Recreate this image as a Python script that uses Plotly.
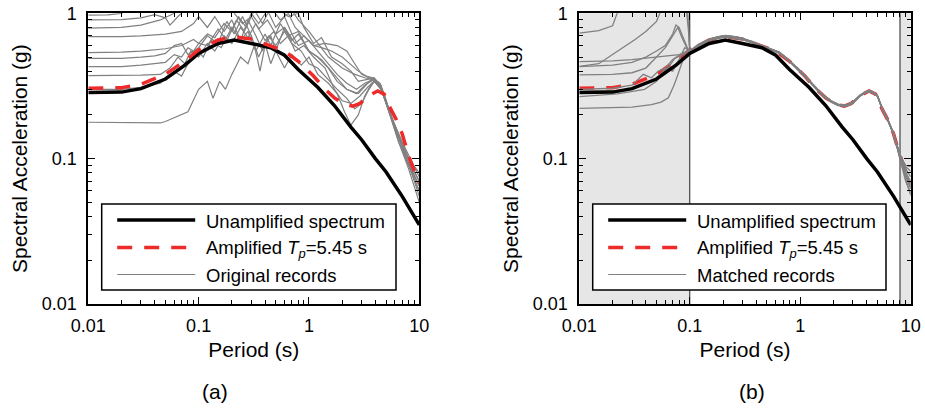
import plotly.graph_objects as go

# ---------------- data ----------------
period_unamp = [0.01, 0.02, 0.03, 0.05, 0.075, 0.1, 0.15, 0.21, 0.3, 0.45, 0.6, 0.8, 1.2, 1.7, 2.4, 3.0, 4.0, 5.0, 7.0, 10.0]
sa_unamp = [0.285, 0.287, 0.303, 0.353, 0.44, 0.53, 0.62, 0.655, 0.62, 0.58, 0.515, 0.41, 0.31, 0.232, 0.165, 0.135, 0.1, 0.081, 0.055, 0.035]

period_amp = [0.01, 0.02, 0.03, 0.05, 0.075, 0.1, 0.15, 0.21, 0.3, 0.45, 0.6, 0.8, 1.1, 1.4, 1.7, 2.1, 2.5, 2.9, 3.5, 4.2, 4.8, 5.5, 6.2, 7.0, 8.0, 9.0, 10.0]
sa_amp = [0.305, 0.308, 0.325, 0.38, 0.47, 0.56, 0.655, 0.69, 0.665, 0.595, 0.55, 0.468, 0.37, 0.3, 0.262, 0.236, 0.23, 0.24, 0.272, 0.292, 0.278, 0.22, 0.185, 0.148, 0.105, 0.082, 0.068]

# original (unmatched) records, panel (a)
orig_periods = [
    [0.01, 0.015, 0.02, 0.03, 0.05, 0.1, 0.2, 0.3, 0.5, 0.7, 0.8, 1.0, 1.2, 1.5, 2.0, 2.6, 3.2, 3.8, 4.5, 5.5, 7.0, 8.5, 10.0],
    [0.01, 0.02, 0.03, 0.04, 0.05, 0.055, 0.065, 0.08, 0.12, 0.2, 0.25, 0.3, 0.35, 0.42, 0.5, 0.6, 0.75, 0.9, 1.1, 1.4, 1.8, 2.2, 2.6, 3.0, 3.8, 4.5, 5.5, 7.0, 8.5, 10.0],
    [0.01, 0.02, 0.03, 0.045, 0.06, 0.08, 0.15, 0.3, 0.5, 0.65, 0.8, 0.9, 1.1, 1.3, 1.6, 2.0, 2.4, 2.8, 3.3, 3.9, 4.5, 5.5, 7.0, 8.5, 10.0],
    [0.01, 0.02, 0.03, 0.05, 0.07, 0.09, 0.1, 0.12, 0.14, 0.17, 0.2, 0.24, 0.28, 0.33, 0.4, 0.45, 0.55, 0.65, 0.8, 1.0, 1.3, 1.7, 2.2, 2.8, 3.4, 3.9, 4.5, 5.5, 7.0, 8.5, 10.0],
    [0.01, 0.02, 0.03, 0.05, 0.07, 0.09, 0.1, 0.12, 0.14, 0.17, 0.2, 0.23, 0.27, 0.32, 0.38, 0.45, 0.55, 0.65, 0.75, 0.9, 1.1, 1.3, 1.6, 2.0, 2.4, 2.8, 3.3, 3.8, 4.4, 5.2, 6.5, 8.0, 10.0],
    [0.01, 0.02, 0.03, 0.04, 0.05, 0.06, 0.07, 0.08, 0.1, 0.12, 0.15, 0.18, 0.21, 0.25, 0.3, 0.35, 0.4, 0.45, 0.5, 0.6, 0.7, 0.85, 1.0, 1.2, 1.5, 1.8, 2.1, 2.4, 2.8, 3.2, 3.7, 4.2, 4.8, 5.5, 7.0, 8.5, 10.0],
    [0.01, 0.02, 0.03, 0.05, 0.06, 0.07, 0.08, 0.09, 0.1, 0.12, 0.15, 0.18, 0.22, 0.26, 0.3, 0.35, 0.42, 0.5, 0.6, 0.7, 0.8, 1.0, 1.2, 1.5, 1.8, 2.2, 2.7, 3.2, 3.8, 4.4, 5.2, 6.5, 8.0, 10.0],
    [0.01, 0.02, 0.03, 0.045, 0.055, 0.065, 0.075, 0.085, 0.1, 0.12, 0.14, 0.17, 0.2, 0.24, 0.28, 0.33, 0.4, 0.48, 0.55, 0.65, 0.75, 0.9, 1.1, 1.4, 1.7, 2.0, 2.4, 2.9, 3.4, 3.9, 4.5, 5.3, 6.5, 8.0, 10.0],
    [0.01, 0.02, 0.03, 0.045, 0.06, 0.07, 0.08, 0.1, 0.11, 0.13, 0.16, 0.2, 0.24, 0.28, 0.33, 0.38, 0.43, 0.5, 0.6, 0.7, 0.85, 1.0, 1.2, 1.5, 1.8, 2.2, 2.6, 3.0, 3.5, 4.0, 4.5, 5.3, 6.5, 8.0, 10.0],
    [0.01, 0.03, 0.045, 0.05, 0.065, 0.08, 0.1, 0.12, 0.135, 0.155, 0.175, 0.2, 0.24, 0.28, 0.32, 0.36, 0.4, 0.45, 0.5, 0.6, 0.7, 0.8, 1.0, 1.2, 1.5, 1.8, 2.2, 2.7, 3.2, 3.8, 4.4, 5.2, 6.5, 8.0, 10.0],
]
orig_sa = [
    [0.97, 0.975, 1.0, 1.15, 1.3, 1.5, 1.6, 1.4, 1.2, 1.05, 0.9, 0.75, 0.62, 0.5, 0.42, 0.38, 0.36, 0.35, 0.3, 0.2, 0.13, 0.095, 0.075],
    [0.9, 0.905, 0.93, 0.98, 0.93, 0.83, 0.95, 1.1, 1.2, 1.05, 0.85, 0.95, 0.78, 0.9, 0.72, 0.8, 0.62, 0.7, 0.6, 0.62, 0.6, 0.55, 0.45, 0.38, 0.35, 0.3, 0.2, 0.13, 0.09, 0.07],
    [0.79, 0.8, 0.83, 0.9, 1.0, 1.2, 1.3, 1.3, 1.1, 0.95, 1.0, 0.8, 0.62, 0.68, 0.5, 0.45, 0.4, 0.34, 0.35, 0.36, 0.31, 0.2, 0.12, 0.085, 0.065],
    [0.69, 0.69, 0.7, 0.72, 0.75, 0.85, 0.95, 0.8, 0.95, 0.75, 0.9, 0.65, 0.75, 0.55, 0.72, 0.6, 0.85, 0.7, 0.75, 0.55, 0.48, 0.38, 0.3, 0.28, 0.33, 0.35, 0.31, 0.2, 0.12, 0.08, 0.06],
    [0.536, 0.54, 0.55, 0.57, 0.6, 0.66, 0.62, 0.72, 0.68, 0.85, 0.75, 0.95, 0.8, 1.05, 0.85, 1.1, 0.9, 1.0, 0.8, 0.7, 0.6, 0.58, 0.55, 0.5, 0.44, 0.4, 0.37, 0.36, 0.32, 0.22, 0.14, 0.1, 0.08],
    [0.49, 0.49, 0.5, 0.51, 0.53, 0.6, 0.62, 0.52, 0.58, 0.7, 0.62, 0.88, 0.72, 0.95, 0.7, 0.5, 0.62, 0.45, 0.55, 0.42, 0.52, 0.44, 0.5, 0.38, 0.33, 0.28, 0.21, 0.17, 0.2, 0.27, 0.33, 0.34, 0.28, 0.2, 0.12, 0.08, 0.055],
    [0.43, 0.43, 0.44, 0.46, 0.52, 0.5, 0.58, 0.55, 0.62, 0.6, 0.78, 0.65, 0.9, 0.75, 1.0, 0.85, 1.05, 0.8, 0.95, 0.72, 0.6, 0.65, 0.55, 0.45, 0.38, 0.33, 0.3, 0.33, 0.35, 0.32, 0.22, 0.14, 0.095, 0.07],
    [0.372, 0.372, 0.375, 0.38, 0.42, 0.5, 0.45, 0.55, 0.5, 0.62, 0.55, 0.7, 0.62, 0.8, 0.68, 0.85, 0.65, 0.75, 0.62, 0.7, 0.55, 0.6, 0.5, 0.42, 0.3, 0.25, 0.24, 0.27, 0.31, 0.34, 0.31, 0.21, 0.13, 0.09, 0.065],
    [0.3, 0.3, 0.31, 0.33, 0.4, 0.37, 0.45, 0.55, 0.5, 0.65, 0.58, 0.8, 0.65, 0.9, 0.7, 0.55, 0.7, 0.6, 0.75, 0.62, 0.55, 0.45, 0.42, 0.35, 0.3, 0.26, 0.22, 0.24, 0.3, 0.35, 0.32, 0.22, 0.14, 0.09, 0.06],
    [0.178, 0.178, 0.176, 0.18, 0.195, 0.21, 0.3, 0.34, 0.26, 0.34, 0.3, 0.38, 0.5, 0.45, 0.6, 0.4, 0.6, 0.7, 0.55, 0.8, 0.65, 0.72, 0.55, 0.5, 0.42, 0.34, 0.3, 0.28, 0.32, 0.35, 0.33, 0.22, 0.13, 0.085, 0.05],
]

# matched records, panel (b): short-period part (outside matching range) per record
matched_short_periods = [
    [0.01, 0.015, 0.02, 0.022, 0.03, 0.05, 0.08, 0.095, 0.098],
    [0.01, 0.015, 0.02, 0.025, 0.032, 0.04, 0.05, 0.055, 0.07, 0.09, 0.097],
    [0.01, 0.02, 0.03, 0.05, 0.08, 0.095],
    [0.01, 0.02, 0.03, 0.04, 0.05, 0.06, 0.07, 0.075, 0.08, 0.09, 0.095],
    [0.01, 0.02, 0.03, 0.04, 0.05, 0.06, 0.07, 0.078, 0.085, 0.095],
    [0.01, 0.02, 0.03, 0.038, 0.045, 0.052, 0.06, 0.07, 0.085, 0.095],
    [0.01, 0.022, 0.039, 0.05, 0.055, 0.065, 0.073, 0.085, 0.095],
    [0.01, 0.03, 0.045, 0.055, 0.064, 0.072, 0.078, 0.09, 0.095],
    [0.01, 0.02, 0.03, 0.04, 0.05, 0.06, 0.07, 0.08, 0.09, 0.095],
]
matched_short_sa = [
    [0.73, 0.76, 0.82, 1.0, 1.3, 1.6, 1.5, 1.2, 0.7],
    [0.432, 0.45, 0.52, 0.58, 0.66, 0.75, 0.88, 1.05, 1.4, 1.3, 0.8],
    [0.465, 0.47, 0.48, 0.5, 0.52, 0.54],
    [0.43, 0.44, 0.46, 0.5, 0.55, 0.6, 0.72, 0.83, 0.8, 0.65, 0.58],
    [0.377, 0.38, 0.39, 0.42, 0.5, 0.58, 0.7, 0.8, 0.68, 0.57],
    [0.3, 0.305, 0.32, 0.38, 0.36, 0.4, 0.42, 0.48, 0.52, 0.55],
    [0.267, 0.279, 0.3, 0.34, 0.378, 0.43, 0.49, 0.53, 0.55],
    [0.222, 0.226, 0.235, 0.245, 0.262, 0.32, 0.378, 0.52, 0.55],
    [0.29, 0.292, 0.3, 0.33, 0.35, 0.42, 0.4, 0.48, 0.58, 0.56],
]
# matched records: matched part and long-period tail
matched_long_periods = [0.1, 0.12, 0.15, 0.18, 0.21, 0.25, 0.3, 0.37, 0.45, 0.55, 0.65, 0.8, 0.95, 1.1, 1.3, 1.6, 1.9, 2.2, 2.6, 3.0, 3.5, 4.0, 4.4, 5.0, 5.6, 6.2, 7.0, 8.0, 9.0, 10.0]
matched_long_sa = [
    [0.55, 0.61, 0.66, 0.69, 0.70, 0.69, 0.67, 0.64, 0.60, 0.57, 0.54, 0.47, 0.42, 0.375, 0.325, 0.275, 0.25, 0.236, 0.233, 0.245, 0.275, 0.29, 0.293, 0.27, 0.213, 0.183, 0.147, 0.104, 0.09, 0.088],
    [0.55, 0.59, 0.645, 0.68, 0.695, 0.67, 0.66, 0.625, 0.59, 0.555, 0.53, 0.465, 0.41, 0.365, 0.318, 0.27, 0.245, 0.232, 0.228, 0.24, 0.27, 0.286, 0.288, 0.268, 0.217, 0.187, 0.15, 0.104, 0.075, 0.062],
    [0.55, 0.615, 0.665, 0.685, 0.705, 0.695, 0.675, 0.635, 0.6, 0.565, 0.54, 0.472, 0.418, 0.372, 0.322, 0.275, 0.25, 0.237, 0.233, 0.246, 0.274, 0.291, 0.292, 0.272, 0.214, 0.184, 0.146, 0.102, 0.08, 0.07],
    [0.55, 0.595, 0.65, 0.67, 0.685, 0.675, 0.66, 0.628, 0.593, 0.558, 0.532, 0.466, 0.413, 0.368, 0.319, 0.27, 0.247, 0.233, 0.23, 0.242, 0.271, 0.287, 0.289, 0.269, 0.216, 0.186, 0.149, 0.106, 0.085, 0.075],
    [0.55, 0.605, 0.66, 0.69, 0.70, 0.685, 0.67, 0.632, 0.598, 0.562, 0.537, 0.47, 0.416, 0.371, 0.321, 0.273, 0.249, 0.235, 0.232, 0.244, 0.273, 0.289, 0.291, 0.271, 0.215, 0.185, 0.148, 0.1, 0.07, 0.058],
    [0.55, 0.6, 0.655, 0.68, 0.69, 0.68, 0.665, 0.63, 0.596, 0.56, 0.535, 0.468, 0.415, 0.37, 0.32, 0.272, 0.248, 0.234, 0.231, 0.243, 0.272, 0.288, 0.29, 0.27, 0.215, 0.185, 0.148, 0.103, 0.082, 0.066],
    [0.55, 0.603, 0.658, 0.684, 0.698, 0.688, 0.668, 0.633, 0.597, 0.561, 0.536, 0.469, 0.417, 0.373, 0.323, 0.274, 0.249, 0.235, 0.232, 0.244, 0.273, 0.289, 0.29, 0.27, 0.214, 0.184, 0.147, 0.101, 0.078, 0.064],
    [0.55, 0.598, 0.652, 0.676, 0.692, 0.678, 0.662, 0.627, 0.594, 0.557, 0.533, 0.467, 0.414, 0.369, 0.32, 0.271, 0.247, 0.234, 0.231, 0.243, 0.272, 0.288, 0.289, 0.269, 0.216, 0.186, 0.149, 0.107, 0.088, 0.082],
    [0.55, 0.607, 0.662, 0.687, 0.702, 0.69, 0.672, 0.636, 0.599, 0.563, 0.538, 0.471, 0.417, 0.372, 0.322, 0.274, 0.25, 0.236, 0.232, 0.245, 0.274, 0.29, 0.291, 0.271, 0.214, 0.184, 0.147, 0.099, 0.072, 0.056],
]

match_excluded_ranges = [[0.01, 0.1], [8.0, 10.0]]

x_tick_vals = [0.01, 0.1, 1, 10]
x_tick_text = ["0.01", "0.1", "1", "10"]
x_minor_vals = [0.02, 0.03, 0.04, 0.05, 0.06, 0.07, 0.08, 0.09,
                0.2, 0.3, 0.4, 0.5, 0.6, 0.7, 0.8, 0.9,
                2, 3, 4, 5, 6, 7, 8, 9]
y_tick_vals = [0.01, 0.1, 1]
y_tick_text = ["0.01", "0.1", "1"]
y_minor_vals = [0.02, 0.03, 0.04, 0.05, 0.06, 0.07, 0.08, 0.09,
                0.2, 0.3, 0.4, 0.5, 0.6, 0.7, 0.8, 0.9]

legend_a = ["Unamplified spectrum", "Amplified <i>T</i><sub><i>p</i></sub>=5.45 s", "Original records"]
legend_b = ["Unamplified spectrum", "Amplified <i>T</i><sub><i>p</i></sub>=5.45 s", "Matched records"]
panel_labels = ["(a)", "(b)"]

# ---------------- styling / layout ----------------
W, H = 925, 411
FONT = "Liberation Sans, Arial, sans-serif"
GRAY = "#808080"
RED = "#ee2b2b"
BLACK = "#000000"


def px(x):
    return x / W


def py(y):
    return 1 - y / H


panels = [
    dict(x0=88.3, x1=419.3),
    dict(x0=579.3, x1=910.7),
]
Y_TOP, Y_BOT = 13.3, 304.0

fig = go.Figure()

# panel (a): original records, unamplified, amplified
for t, s in zip(orig_periods, orig_sa):
    fig.add_trace(go.Scatter(x=t, y=s, mode="lines", line=dict(color=GRAY, width=1.2),
                             xaxis="x", yaxis="y", showlegend=False, hoverinfo="skip"))
fig.add_trace(go.Scatter(x=period_unamp, y=sa_unamp, mode="lines", line=dict(color=BLACK, width=3.5),
                         xaxis="x", yaxis="y", showlegend=False))
fig.add_trace(go.Scatter(x=period_amp, y=sa_amp, mode="lines", line=dict(color=RED, width=3.5, dash="15px,12px"),
                         xaxis="x", yaxis="y", showlegend=False))

# panel (b)
fig.add_trace(go.Scatter(x=period_amp, y=sa_amp, mode="lines", line=dict(color=RED, width=3.5, dash="15px,12px"),
                         xaxis="x2", yaxis="y2", showlegend=False))
for ts, ss, sl in zip(matched_short_periods, matched_short_sa, matched_long_sa):
    fig.add_trace(go.Scatter(x=list(ts) + list(matched_long_periods), y=list(ss) + list(sl), mode="lines",
                             line=dict(color=GRAY, width=1.3), xaxis="x2", yaxis="y2",
                             showlegend=False, hoverinfo="skip"))
fig.add_trace(go.Scatter(x=period_unamp, y=sa_unamp, mode="lines", line=dict(color=BLACK, width=3.5),
                         xaxis="x2", yaxis="y2", showlegend=False))

shapes = []
# shaded (unmatched) period ranges in (b)
for lo, hi in match_excluded_ranges:
    shapes.append(dict(type="rect", xref="x2", yref="y2 domain", x0=lo, x1=hi, y0=0, y1=1,
                       fillcolor="#e6e6e6", line=dict(width=0), layer="below"))
    edge = hi if lo == 0.01 else lo
    shapes.append(dict(type="line", xref="x2", yref="y2 domain", x0=edge, x1=edge, y0=0, y1=1,
                       line=dict(color="#222222", width=1), layer="below"))

annotations = []
# manual legends
legend_boxes = [(101.7, 396.0), (592.7, 886.0)]
row_y = [220.0, 247.5, 274.5]
styles = [dict(color=BLACK, width=3.5), dict(color=RED, width=3.5, dash="15px,12px"), dict(color=GRAY, width=1.2)]
for (bx0, bx1), labels in zip(legend_boxes, [legend_a, legend_b]):
    shapes.append(dict(type="rect", xref="paper", yref="paper", x0=px(bx0), x1=px(bx1),
                       y0=py(290.0), y1=py(204.0), fillcolor="white",
                       line=dict(color="black", width=1.5), layer="above"))
    for ry, st, lab in zip(row_y, styles, labels):
        shapes.append(dict(type="line", xref="paper", yref="paper", x0=px(bx0 + 15.5), x1=px(bx0 + 93.5),
                           y0=py(ry), y1=py(ry), line=st, layer="above"))
        annotations.append(dict(text=lab, xref="paper", yref="paper", x=px(bx0 + 102.5), y=py(ry + 1),
                                xanchor="left", yanchor="middle", showarrow=False,
                                font=dict(family=FONT, size=18.5, color="black")))

# panel labels
for lab, cx in zip(panel_labels, [215.0, 752.0]):
    annotations.append(dict(text=lab, xref="paper", yref="paper", x=px(cx), y=py(391.0),
                            xanchor="center", yanchor="middle", showarrow=False,
                            font=dict(family=FONT, size=21, color="black")))

axis_common = dict(
    type="log", showline=True, linecolor="black", linewidth=2, mirror="allticks",
    ticks="inside", ticklen=7, tickwidth=1, tickcolor="black", showgrid=False, zeroline=False,
    tickfont=dict(family=FONT, size=18, color="black"), automargin=False,
)

layout = dict(
    width=W, height=H, margin=dict(l=0, r=0, t=0, b=0),
    paper_bgcolor="white", plot_bgcolor="white", showlegend=False,
    font=dict(family=FONT, color="black"),
    shapes=shapes, annotations=annotations,
)
for i, p in enumerate(panels):
    sx = "" if i == 0 else str(i + 1)
    layout["xaxis" + sx] = dict(axis_common, domain=[px(p["x0"]), px(p["x1"])], range=[-2, 1],
                                tickmode="array", tickvals=x_tick_vals, ticktext=x_tick_text, anchor="y" + sx,
                                minor=dict(tickmode="array", tickvals=x_minor_vals, ticks="inside", ticklen=4,
                                           tickwidth=1, tickcolor="black", showgrid=False),
                                title=dict(text="Period (s)", font=dict(family=FONT, size=21), standoff=8),
                                ticklabelstandoff=4)
    layout["yaxis" + sx] = dict(axis_common, domain=[py(Y_BOT), py(Y_TOP)], range=[-2, 0],
                                tickmode="array", tickvals=y_tick_vals, ticktext=y_tick_text, anchor="x" + sx,
                                minor=dict(tickmode="array", tickvals=y_minor_vals, ticks="inside", ticklen=4,
                                           tickwidth=1, tickcolor="black", showgrid=False),
                                title=dict(text="Spectral Acceleration (g)", font=dict(family=FONT, size=21), standoff=8),
                                ticklabelstandoff=6)

fig.update_layout(**layout)
fig.write_html("out.html", config={"displayModeBar": False},
               post_script="document.body.style.margin='0';document.body.style.overflow='hidden';")
